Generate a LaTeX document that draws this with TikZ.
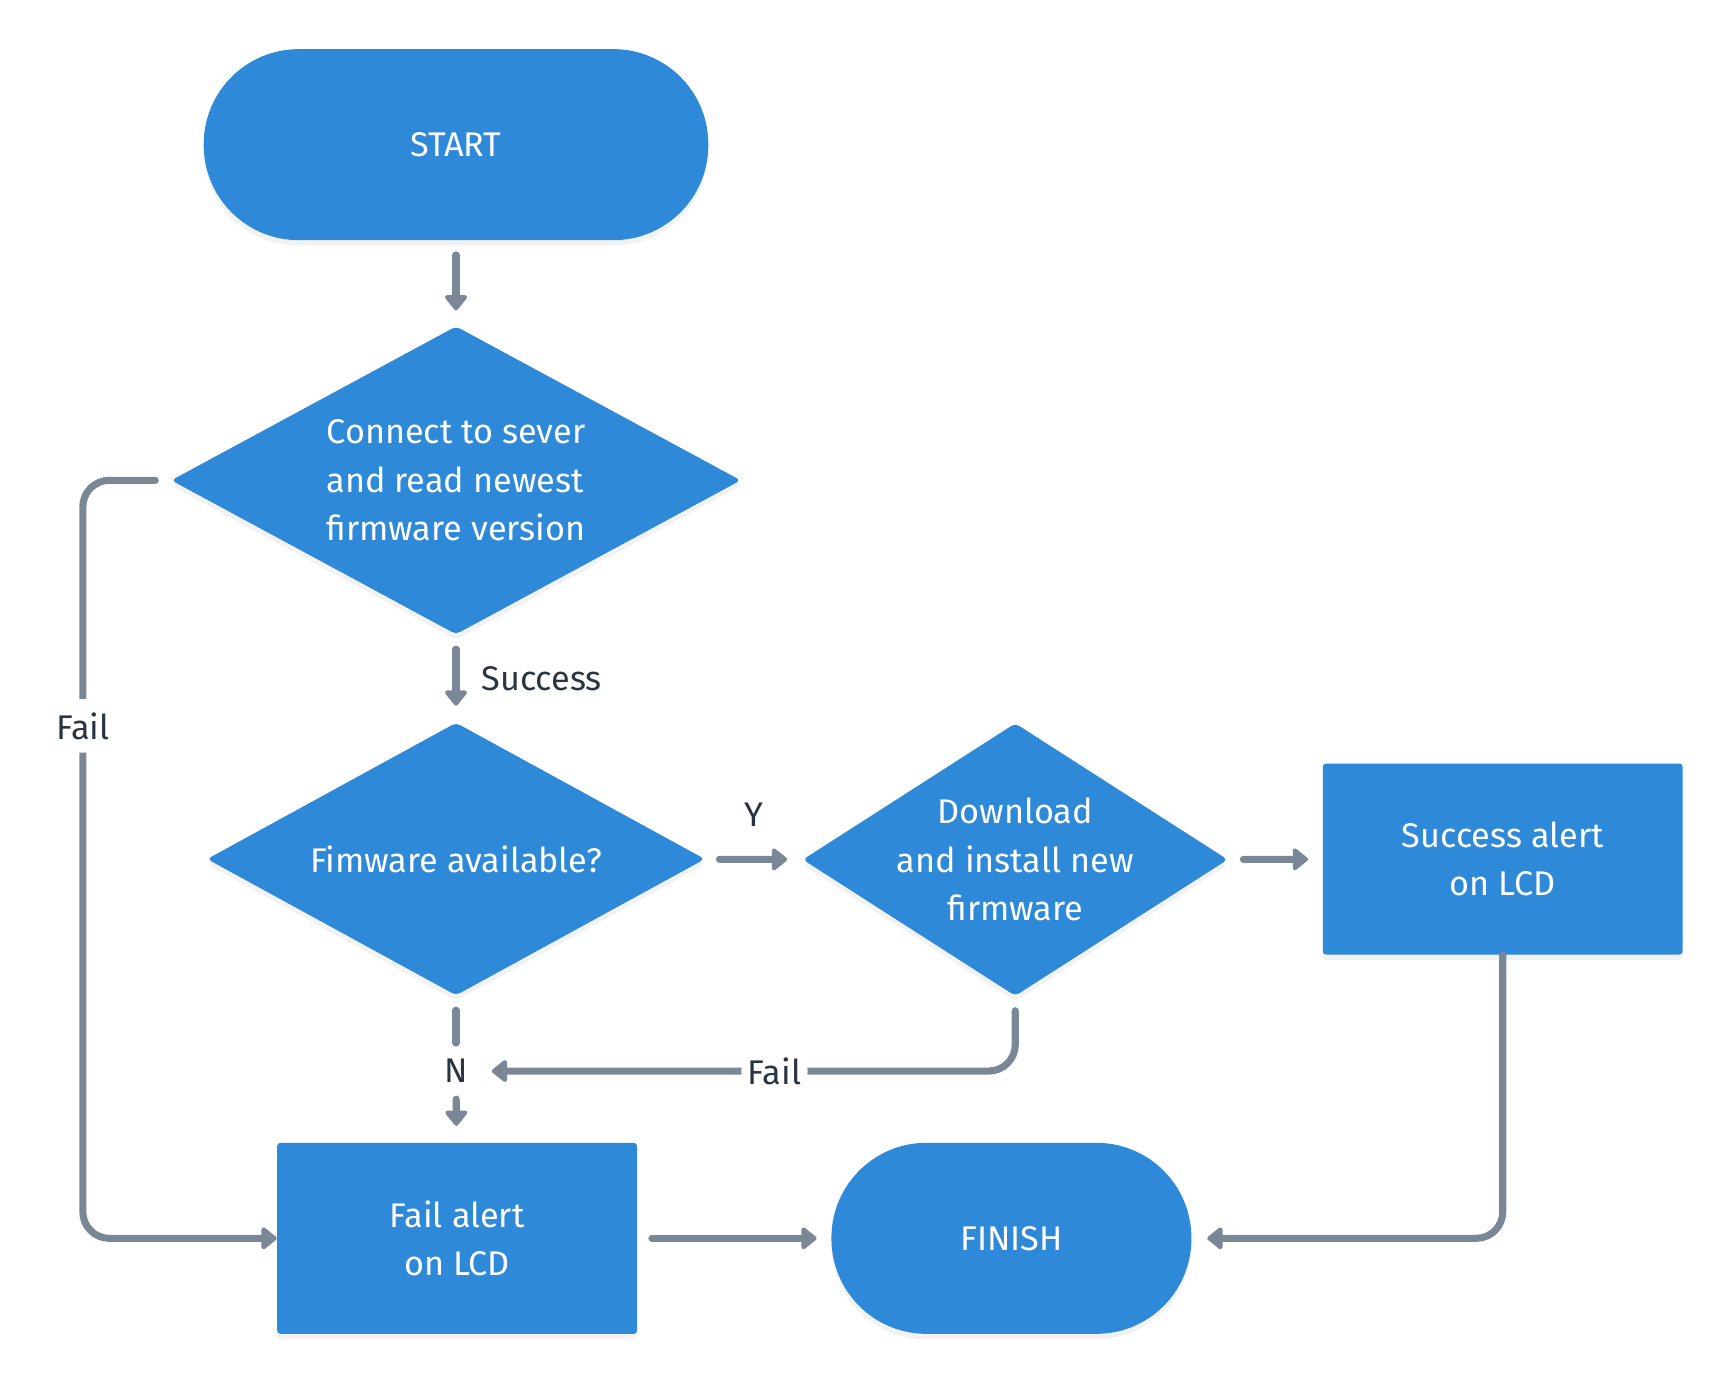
\documentclass[tikz,border=0pt]{standalone}
\usepackage{fontspec}
\setmainfont{Fira Sans}
\usetikzlibrary{shapes.geometric,arrows.meta,shadows}
\definecolor{fillblue}{HTML}{2E89D9}
\definecolor{linegray}{HTML}{7A8796}
\definecolor{txtdark}{HTML}{2A3441}
\begin{document}
\begin{tikzpicture}[x=0.5pt,y=-0.5pt,
  font=\fontsize{15.5}{22}\selectfont,
  shp/.style={fill=fillblue, text=white, draw=none, drop shadow={shadow xshift=0pt,shadow yshift=-2.5pt,opacity=0.10}},
  term/.style={shp, rectangle, rounded corners=43pt, minimum height=86.5pt, inner sep=0pt},
  dec/.style={shp, diamond, rounded corners=2pt, inner sep=0pt},
  proc/.style={shp, rectangle, rounded corners=1.5pt, minimum width=163pt, minimum height=86.5pt, inner sep=0pt, align=center},
  intext/.style={text=white, inner sep=0pt},
  arr/.style={draw=linegray, line width=3.2pt, line cap=round, -{Triangle[width=11.5pt,length=7.5pt,round]}},
  ln/.style={draw=linegray, line width=3.2pt, line cap=round},
  lbl/.style={text=txtdark, inner sep=0pt},
  gaplbl/.style={text=txtdark, fill=white, inner xsep=3pt, inner ysep=6pt},
]
\useasboundingbox (0,0) rectangle (1565,1250);
\node[term, minimum width=228.5pt] (start) at (413,131) {START};
\node[dec, minimum width=258pt, minimum height=139.5pt,
  label={[intext, align=left]center:Connect to sever\\and read newest\\firmware version}] (d1) at (413,435) {};
\node[dec, minimum width=225.5pt, minimum height=123.5pt,
  label={[intext]center:Fimware available?}] (d2) at (413,778) {};
\node[dec, minimum width=192.5pt, minimum height=123.5pt,
  label={[intext, align=center]center:Download\\and install new\\firmware}] (d3) at (919.5,778.5) {};
\node[proc] (succ) at (1361,778) {Success alert\\on LCD};
\node[proc] (fail) at (414,1121.5) {Fail alert\\on LCD};
\node[term, minimum width=163pt] (fin) at (916,1121.5) {FINISH};
\node[lbl, minimum width=32pt, minimum height=25pt] (n) at (413,970) {N};
\coordinate (lft) at (75,435);

\draw[arr, shorten <=6.5pt, shorten >=7pt] (start) -- (d1);
\draw[arr, shorten <=6.5pt, shorten >=7.5pt] (d1) -- (d2) node[lbl, midway, right=10pt]{Success};
\draw[ln, shorten <=6.5pt] (d2) -- (n);
\draw[arr, shorten >=7.5pt] (n) -- (fail);
\draw[arr, shorten <=6.5pt, shorten >=7pt] (d2) -- (d3) node[lbl, midway, above=13.5pt]{Y};
\draw[arr, shorten <=7pt, shorten >=6.5pt] (d3) -- (succ);
\draw[arr, shorten <=6.5pt, shorten >=6.5pt] (fail) -- (fin);
\draw[arr, rounded corners=12pt, shorten >=7pt] (succ.south) |- (fin.east);
\draw[arr, rounded corners=12pt, shorten <=6.5pt] (d3.south) |- (n.east) node[gaplbl, pos=0.73]{Fail};
\draw[arr, rounded corners=12pt, shorten <=7pt] (d1.west) -- (lft) |- (fail.west) node[gaplbl, pos=0.162]{Fail};
\end{tikzpicture}
\end{document}
